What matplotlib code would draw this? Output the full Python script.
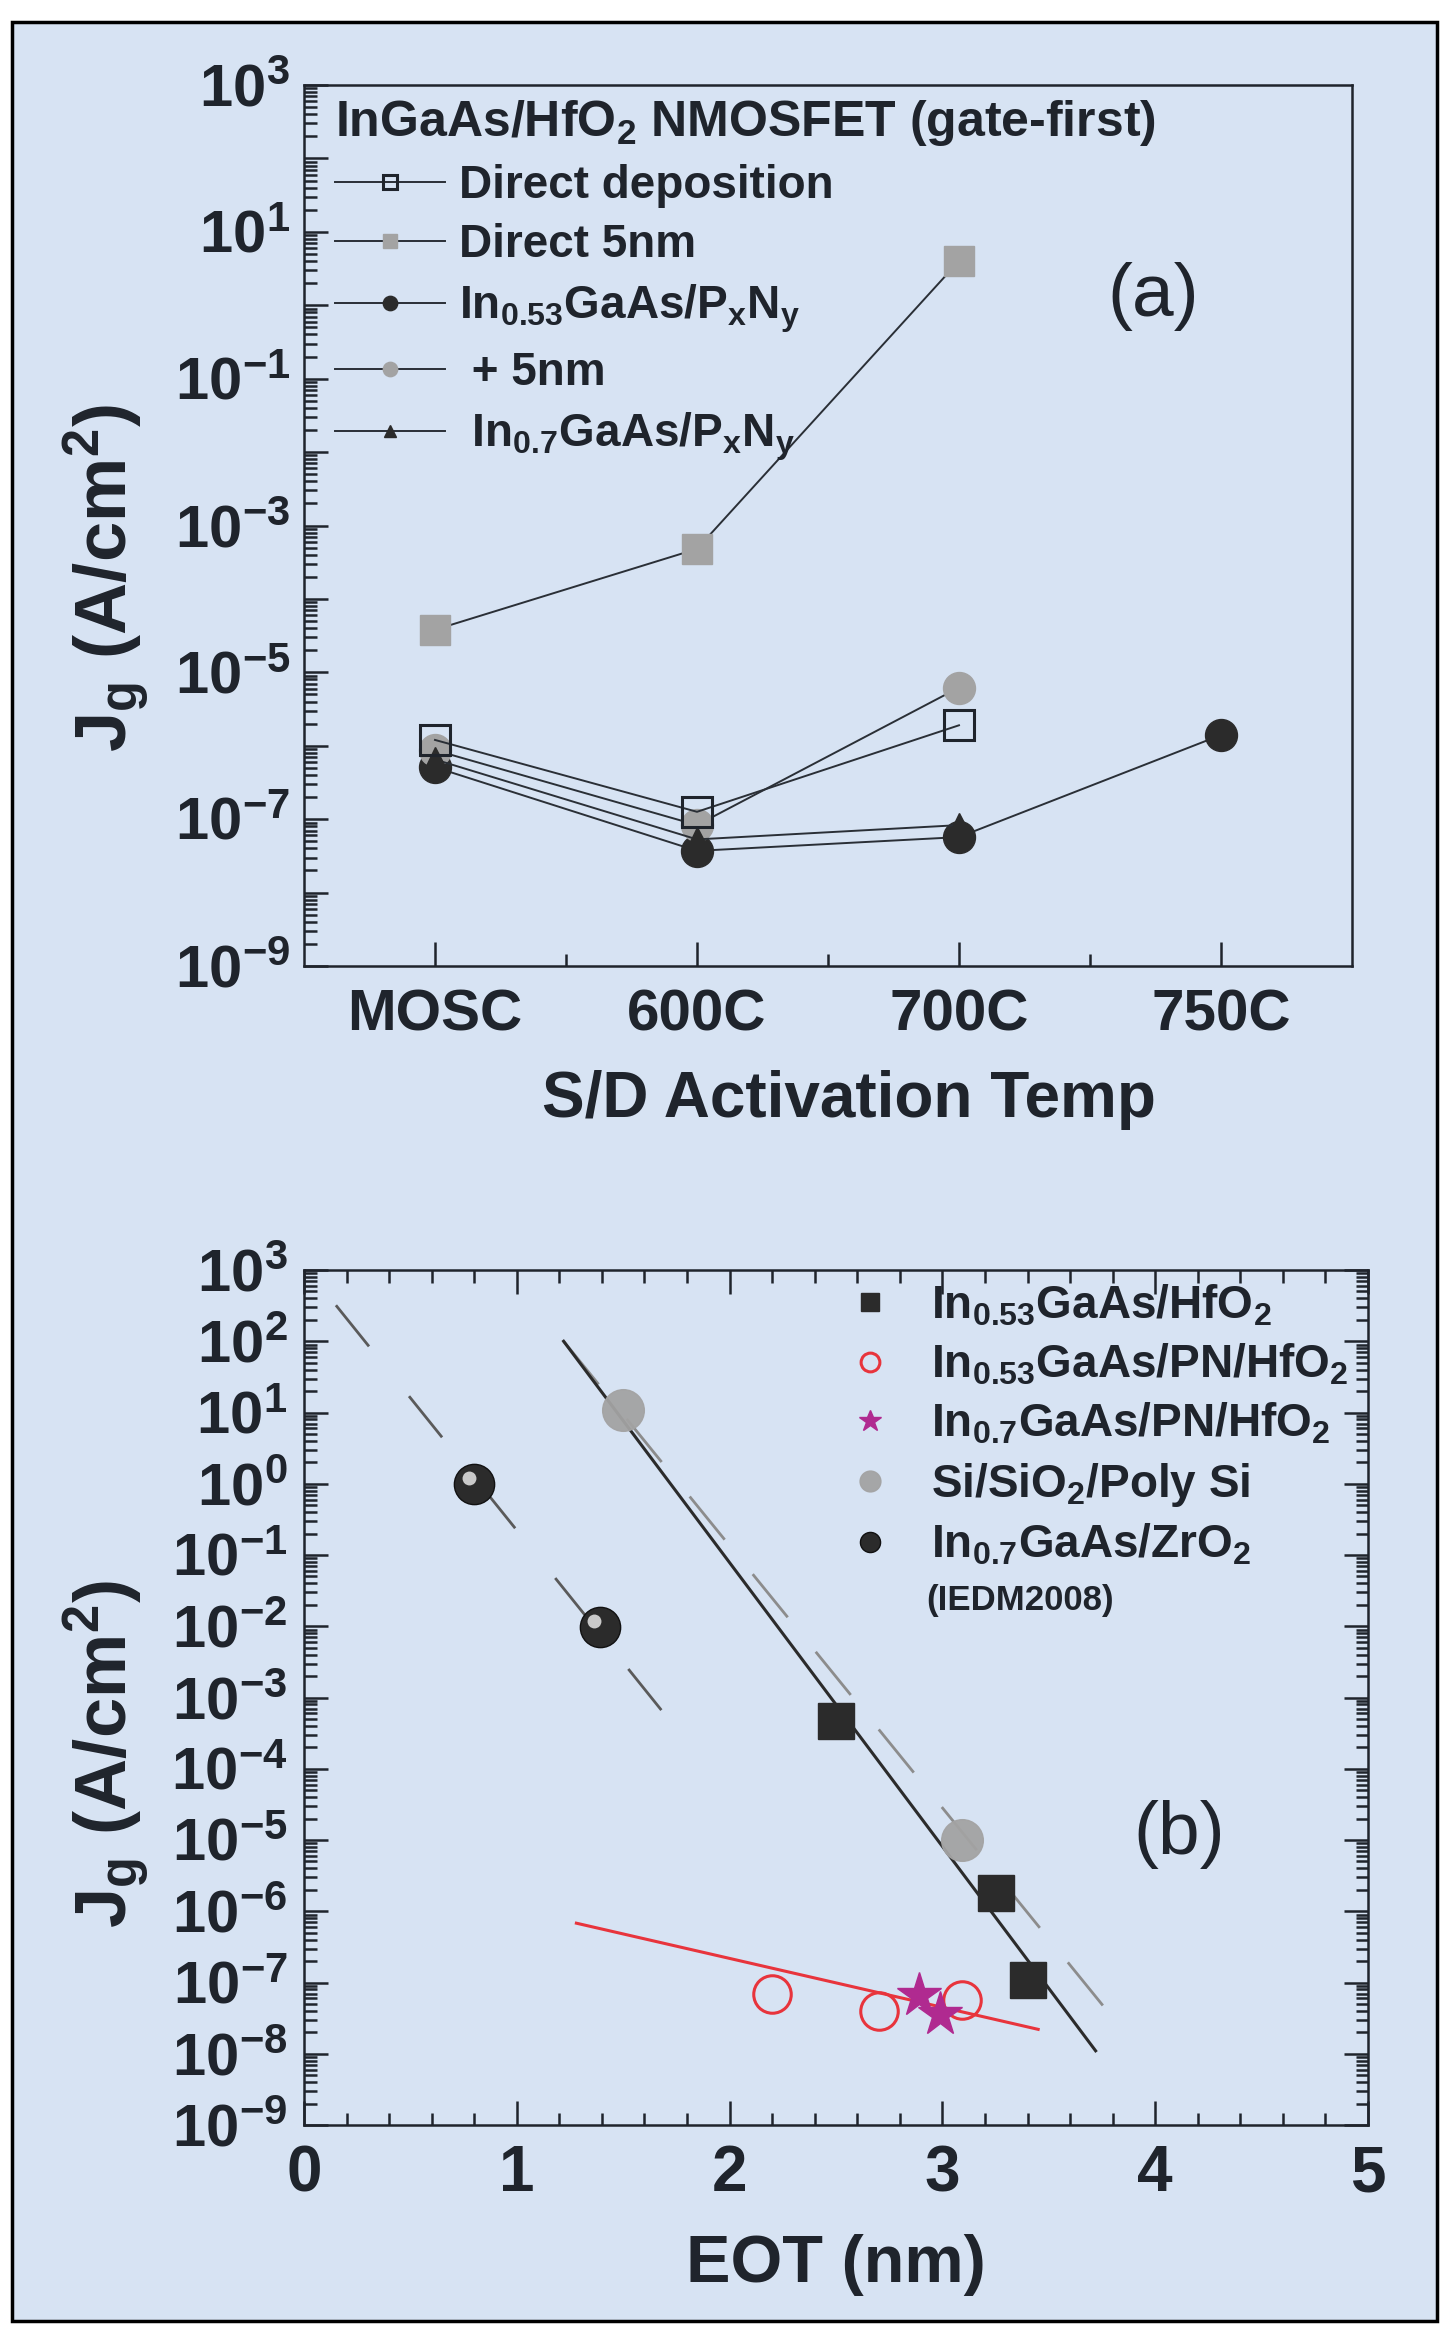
import numpy as np
import matplotlib
matplotlib.use("Agg")
import matplotlib.pyplot as plt
import matplotlib.transforms as mtransforms
from matplotlib.patches import Rectangle
from matplotlib.ticker import FixedLocator, LogLocator, NullFormatter

plt.rcParams["font.family"] = ["Liberation Sans", "DejaVu Sans"]
plt.rcParams["font.weight"] = "bold"
plt.rcParams["axes.labelweight"] = "bold"
plt.rcParams["mathtext.fontset"] = "custom"
for k in ("rm", "it", "bf", "sf"):
    plt.rcParams["mathtext." + k] = "Liberation Sans:bold"

# ---- data, panel (a) ----
temps = ["MOSC", "600C", "700C", "750C"]
direct_dep = [1.2e-6, 1.26e-7, 1.9e-6]
direct_5nm = [3.8e-5, 4.8e-4, 4.0]
in053_pxny = [5.1e-7, 3.7e-8, 5.7e-8, 1.4e-6]
plus_5nm = [8.7e-7, 8.3e-8, 6.2e-6]
in07_pxny = [6.5e-7, 5.3e-8, 8.3e-8]

# ---- data, panel (b) ----
eot_hfo2 = [2.50, 3.25, 3.40]
jg_hfo2 = [4.7e-4, 1.8e-6, 1.1e-7]
eot_pn = [2.20, 2.70, 3.09]
jg_pn = [7.0e-8, 4.0e-8, 5.7e-8]
eot_in07 = [2.89, 2.99]
jg_in07 = [6.7e-8, 3.6e-8]
eot_si = [1.50, 3.09]
jg_si = [10.8, 1.0e-5]
eot_zro2 = [0.80, 1.39]
jg_zro2 = [1.0, 9.8e-3]

fit_hfo2_x = [1.22, 3.72]
fit_hfo2_y = [1.0e2, 1.1e-8]
fit_si_x = [1.22, 3.83]
fit_si_y = [1.0e2, 2.5e-8]
fit_zro2_x = [0.15, 1.72]
fit_zro2_y = [3.2e2, 4.7e-4]
fit_pn_x = [1.28, 3.45]
fit_pn_y = [6.8e-7, 2.2e-8]

W, H = 1445, 2333
BG = "#d7e3f3"
INK = "#1f242c"
LINE = "#2a2f36"
GREY = "#a3a3a3"
DARK = "#2b2b2b"
RED = "#e8343c"
MAGENTA = "#b02a90"

fig = plt.figure(figsize=(W / 100, H / 100), dpi=100, facecolor="white")
fig.patches.append(Rectangle((12 / W, 1 - 2321 / H), (1437 - 12) / W, (2321 - 22) / H,
                             transform=fig.transFigure, facecolor=BG,
                             edgecolor="black", lw=2.5, zorder=-10))


def px_axes(left, top, right, bottom):
    ax = fig.add_axes([left / W, 1 - bottom / H, (right - left) / W, (bottom - top) / H])
    ax.set_facecolor("none")
    for s in ax.spines.values():
        s.set_color(INK)
        s.set_linewidth(1.8)
    return ax


def log_yaxis(ax, labelled):
    ax.set_yscale("log")
    ax.set_ylim(1e-9, 1e3)
    exps = list(range(-9, 4))
    ax.yaxis.set_major_locator(FixedLocator([10.0 ** e for e in exps]))
    ax.set_yticklabels([rf"$10^{{{e}}}$" if labelled(e) else "" for e in exps])
    ax.yaxis.set_minor_locator(LogLocator(base=10, subs=np.arange(2, 10), numticks=30))
    ax.yaxis.set_minor_formatter(NullFormatter())


# ================= panel (a) =================
axA = px_axes(304, 85, 1352, 966)
x = np.arange(1, len(temps) + 1)

hd5, = axA.plot(x[:3], direct_5nm, color=LINE, lw=1.4, marker="s", ms=21,
                mfc=GREY, mec=GREY, label="Direct 5nm", zorder=3)
h053, = axA.plot(x, in053_pxny, color=LINE, lw=1.4, marker="o", ms=23,
                 mfc=DARK, mec=DARK, label=r"In$_{0.53}$GaAs/P$_x$N$_y$", zorder=3)
hp5, = axA.plot(x[:3], plus_5nm, color=LINE, lw=1.4, marker="o", ms=23,
                mfc=GREY, mec=GREY, label=" + 5nm", zorder=3)
h07, = axA.plot(x[:3], in07_pxny, color=LINE, lw=1.4, marker="^", ms=18,
                mfc=DARK, mec=DARK, label=r" In$_{0.7}$GaAs/P$_x$N$_y$", zorder=4)
hdd, = axA.plot(x[:3], direct_dep, color=LINE, lw=1.4, marker="s", ms=21,
                mfc="none", mec=INK, mew=2.2, label="Direct deposition", zorder=5)

axA.set_xlim(0.5, 4.5)
axA.set_xticks(x)
axA.set_xticklabels(temps)
axA.set_xticks([1.5, 2.5, 3.5], minor=True)
log_yaxis(axA, lambda e: e % 2 == 1)
axA.tick_params(which="both", direction="in", colors=INK, width=1.8)
axA.tick_params(which="major", length=17)
axA.tick_params(which="minor", length=9)
axA.tick_params(axis="x", labelsize=42, pad=16)
axA.tick_params(axis="y", labelsize=43, pad=10)

axA.set_ylabel(r"J$_g$ (A/cm$^2$)", fontsize=52, color=INK)
axA.yaxis.set_label_coords(-0.145, 0.44)
axA.set_xlabel("S/D Activation Temp", fontsize=46, color=INK)
axA.xaxis.set_label_coords(0.52, -0.118)
axA.xaxis.label.set_va("top")

axA.text(0.81, 0.76, "(a)", transform=axA.transAxes, fontsize=54,
         fontweight="normal", color=INK, ha="center", va="center")

legA = axA.legend(handles=[hdd, hd5, h053, hp5, h07], loc="upper left",
                  bbox_to_anchor=(0.03, 0.985), frameon=False,
                  title=r"InGaAs/HfO$_2$ NMOSFET (gate-first)",
                  title_fontproperties={"weight": "bold", "size": 36},
                  prop={"weight": "bold", "size": 33}, alignment="left",
                  handlelength=2.4, handletextpad=0.3, labelspacing=0.34,
                  borderpad=0, borderaxespad=0, markerscale=0.45)
for t in legA.get_texts():
    t.set_color(INK)
legA.get_title().set_color(INK)

# ================= panel (b) =================
axB = px_axes(304, 1270, 1368, 2125)

axB.plot(fit_zro2_x, fit_zro2_y, color="#5a5a5a", lw=2.0, dashes=(19, 23), zorder=2)
axB.plot(fit_si_x, fit_si_y, color="#8c8c8c", lw=2.0, dashes=(20, 16), zorder=2)
axB.plot(fit_hfo2_x, fit_hfo2_y, color=DARK, lw=2.2, zorder=3)
axB.plot(fit_pn_x, fit_pn_y, color=RED, lw=2.2, zorder=3)

hb1, = axB.plot(eot_hfo2, jg_hfo2, ls="none", marker="s", ms=26, mfc=DARK, mec=DARK,
                label=r"In$_{0.53}$GaAs/HfO$_2$", zorder=5)
hb2, = axB.plot(eot_pn, jg_pn, ls="none", marker="o", ms=27, mfc="none", mec=RED, mew=2.2,
                label=r"In$_{0.53}$GaAs/PN/HfO$_2$", zorder=5)
hb3, = axB.plot(eot_in07, jg_in07, ls="none", marker="*", ms=33, mfc=MAGENTA, mec=MAGENTA,
                label=r"In$_{0.7}$GaAs/PN/HfO$_2$", zorder=6)
hb4, = axB.plot(eot_si, jg_si, ls="none", marker="o", ms=30, mfc=GREY, mec=GREY, alpha=0.95,
                label=r"Si/SiO$_2$/Poly Si", zorder=4)
hb5, = axB.plot(eot_zro2, jg_zro2, ls="none", marker="o", ms=29, mfc=DARK, mec="#111111",
                label=r"In$_{0.7}$GaAs/ZrO$_2$", zorder=5)
shine = mtransforms.offset_copy(axB.transData, fig=fig, x=-4, y=4, units="points")
axB.plot(eot_zro2, jg_zro2, ls="none", marker="o", ms=10, mfc="#e6e6e6", mec="none",
         alpha=0.85, transform=shine, zorder=6)

axB.set_xlim(0, 5)
axB.set_xticks(range(0, 6))
axB.set_xticks(np.arange(0, 5.01, 0.2), minor=True)
log_yaxis(axB, lambda e: True)
axB.tick_params(which="both", direction="in", colors=INK, width=1.8, top=True, right=True)
axB.tick_params(which="major", length=17)
axB.tick_params(which="minor", length=9)
axB.tick_params(axis="x", labelsize=46, pad=14)
axB.tick_params(axis="y", labelsize=43, pad=12)

axB.set_ylabel(r"J$_g$ (A/cm$^2$)", fontsize=52, color=INK)
axB.yaxis.set_label_coords(-0.143, 0.434)
axB.set_xlabel("EOT (nm)", fontsize=48, color=INK)
axB.xaxis.set_label_coords(0.5, -0.128)
axB.xaxis.label.set_va("top")

axB.text(0.823, 0.34, "(b)", transform=axB.transAxes, fontsize=54,
         fontweight="normal", color=INK, ha="center", va="center")

legB = axB.legend(handles=[hb1, hb2, hb3, hb4, hb5], loc="upper left",
                  bbox_to_anchor=(0.51, 0.985), frameon=False,
                  prop={"weight": "bold", "size": 33}, numpoints=1,
                  handlelength=1.0, handletextpad=0.85, labelspacing=0.3,
                  borderpad=0, borderaxespad=0, markerscale=0.5)
for t in legB.get_texts():
    t.set_color(INK)
axB.text(0.585, 0.614, "(IEDM2008)", transform=axB.transAxes, fontsize=25,
         color=INK, ha="left", va="center")

fig.savefig("out.png", dpi=100, facecolor="white")
